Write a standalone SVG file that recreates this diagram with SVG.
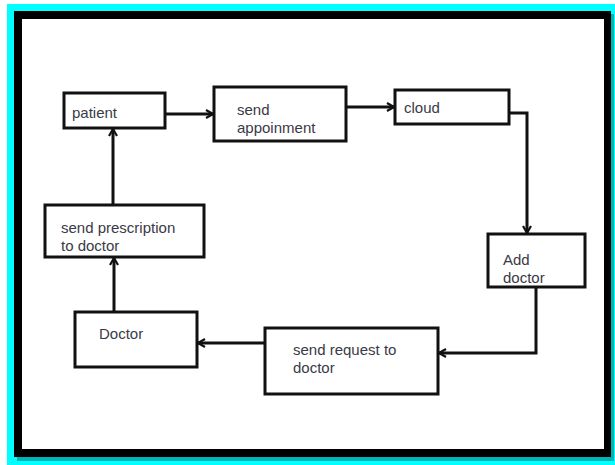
<svg xmlns="http://www.w3.org/2000/svg" width="615" height="465" viewBox="0 0 615 465">
  <defs>
    <style>
      .box { fill: #ffffff; stroke: #111111; stroke-width: 3; }
      .lbl { font-family: "Liberation Sans", Arial, sans-serif; font-size: 15px; fill: #3a3a46; }
      .conn { fill: none; stroke: #111111; stroke-width: 3; marker-end: url(#arrow); }
    </style>
    <marker id="arrow" viewBox="0 0 10 10" refX="9" refY="5" markerWidth="10" markerHeight="10" markerUnits="userSpaceOnUse" orient="auto">
      <path d="M2,1 L9,5 L2,9" fill="none" stroke="#111111" stroke-width="2.2"/>
    </marker>
  </defs>

  <g id="frame">
    <rect x="0" y="0" width="615" height="465" fill="#ffffff"/>
    <rect x="7" y="4" width="608" height="461" fill="#00ffff"/>
    <rect x="17" y="14" width="597" height="447" fill="#00b4b4"/>
    <rect x="14" y="11" width="597" height="446" fill="#000000"/>
    <rect x="22" y="19" width="582" height="430" fill="#ffffff"/>
  </g>

  <g id="connectors">
    <path class="conn" d="M165,114 H213"/>
    <path class="conn" d="M346,107 H394"/>
    <path class="conn" d="M509,113 H527 V233"/>
    <path class="conn" d="M536,287 V353 H439"/>
    <path class="conn" d="M265,343 H198"/>
    <path class="conn" d="M114,312 V258"/>
    <path class="conn" d="M113,205 V129"/>
  </g>

  <g id="patient">
    <rect class="box" x="64" y="93" width="101" height="35"/>
    <text class="lbl" x="72" y="118">patient</text>
  </g>

  <g id="send-appoinment">
    <rect class="box" x="214" y="87" width="132" height="54"/>
    <text class="lbl" x="237" y="115">send</text>
    <text class="lbl" x="237" y="133">appoinment</text>
  </g>

  <g id="cloud">
    <rect class="box" x="395" y="90" width="114" height="34"/>
    <text class="lbl" x="404" y="113">cloud</text>
  </g>

  <g id="add-doctor">
    <rect class="box" x="488" y="234" width="97" height="53"/>
    <text class="lbl" x="503" y="265">Add</text>
    <text class="lbl" x="503" y="283">doctor</text>
  </g>

  <g id="send-request">
    <rect class="box" x="265" y="328" width="173" height="66"/>
    <text class="lbl" x="293" y="355">send request to</text>
    <text class="lbl" x="293" y="373">doctor</text>
  </g>

  <g id="doctor">
    <rect class="box" x="75" y="312" width="122" height="55"/>
    <text class="lbl" x="99" y="339">Doctor</text>
  </g>

  <g id="send-prescription">
    <rect class="box" x="45" y="205" width="159" height="52"/>
    <text class="lbl" x="61" y="233">send prescription</text>
    <text class="lbl" x="61" y="251">to doctor</text>
  </g>
</svg>
